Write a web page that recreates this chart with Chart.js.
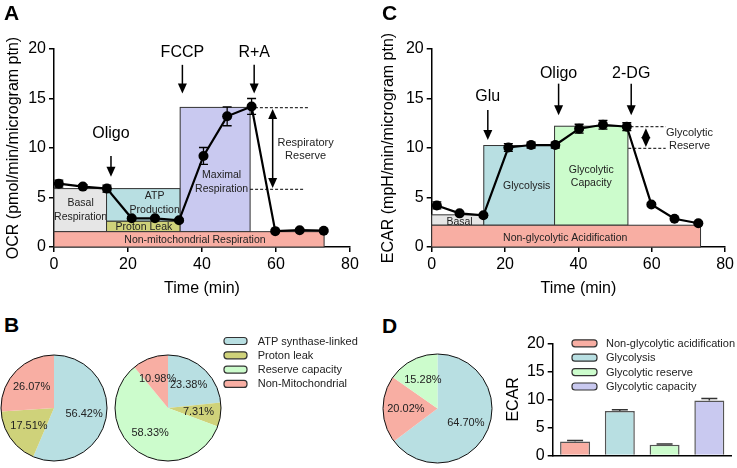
<!DOCTYPE html>
<html><head><meta charset="utf-8">
<script src="https://cdn.jsdelivr.net/npm/chart.js@4.4.1/dist/chart.umd.min.js"></script>
<style>
html,body{margin:0;padding:0;background:#fff;}
#wrap{position:relative;width:737px;height:468px;overflow:hidden;background:#fff;}
canvas{position:absolute;}
.plab{position:absolute;font:bold 21px "Liberation Sans",Arial,sans-serif;line-height:21px;color:#000;}
</style></head><body>
<div id="wrap">
  <canvas id="cA" width="368" height="302" style="left:0;top:0"></canvas>
  <canvas id="cC" width="367" height="302" style="left:370px;top:0"></canvas>
  <canvas id="cB1" width="110" height="110" style="left:0;top:353px"></canvas>
  <canvas id="cB2" width="257" height="135" style="left:113px;top:330px"></canvas>
  <canvas id="cD1" width="113" height="113" style="left:381px;top:352px"></canvas>
  <canvas id="cD2" width="237" height="138" style="left:500px;top:330px"></canvas>
  <div class="plab" style="left:4px;top:2px">A</div>
  <div class="plab" style="left:382px;top:2px">C</div>
  <div class="plab" style="left:4px;top:314px">B</div>
  <div class="plab" style="left:382px;top:315px">D</div>
</div>
<script>
// ---------- DATA ----------
// Panel A: OCR time course
const ocrTime   = [1.3, 7.8, 14.3, 21.0, 27.3, 33.8, 40.4, 46.8, 53.4, 59.8, 66.4, 72.9];
const ocrValues = [6.4, 6.1, 5.9, 2.9, 2.9, 2.7, 9.2, 13.2, 14.2, 1.6, 1.7, 1.65];
const ocrErrors = [0.35, 0.2, 0.35, 0.15, 0.15, 0.15, 0.85, 0.95, 0.8, 0.1, 0.1, 0.1];
const ocrRegionNames = ['Basal Respiration', 'ATP Production', 'Proton Leak', 'Maximal Respiration', 'Non-mitochondrial Respiration'];
const ocrRegionStart = [0, 14.2, 14.2, 34.1, 0];
const ocrRegionEnd   = [14.2, 34.1, 34.1, 53.0, 73.0];
const ocrRegionLow   = [1.55, 2.6, 1.55, 1.55, 0];
const ocrRegionHigh  = [5.9, 5.9, 2.6, 14.1, 1.55];
const ocrInjections  = ['Oligo', 'FCCP', 'R+A'];

// Panel C: ECAR time course
const ecarTime   = [1.4, 7.6, 14.1, 20.9, 27.1, 33.7, 40.2, 46.7, 53.2, 59.9, 66.2, 72.7];
const ecarValues = [4.2, 3.4, 3.2, 10.05, 10.3, 10.3, 11.95, 12.35, 12.15, 4.3, 2.85, 2.4];
const ecarErrors = [0.35, 0.15, 0.15, 0.4, 0.3, 0.3, 0.45, 0.45, 0.4, 0.15, 0.1, 0.1];
const ecarRegionNames = ['Basal', 'Glycolysis', 'Glycolytic Capacity', 'Non-glycolytic Acidification'];
const ecarRegionStart = [0, 14.2, 33.5, 0];
const ecarRegionEnd   = [14.2, 33.5, 53.5, 73.3];
const ecarRegionLow   = [2.2, 2.2, 2.2, 0];
const ecarRegionHigh  = [3.25, 10.25, 12.2, 2.2];
const ecarInjections  = ['Glu', 'Oligo', '2-DG'];

// Panel B: OCR pies
const pieLabelsB = ['ATP synthase-linked', 'Proton leak', 'Reserve capacity', 'Non-Mitochondrial'];
const pieBasal   = [56.42, 17.51, 0, 26.07];
const pieMaximal = [23.38, 7.31, 58.33, 10.98];

// Panel D: ECAR pie and bars
const pieLabelsD = ['Glycolysis', 'Non-glycolytic acidification', 'Glycolytic reserve'];
const pieEcar    = [64.70, 20.02, 15.28];
const barLabelsD = ['Non-glycolytic acidification', 'Glycolysis', 'Glycolytic reserve', 'Glycolytic capacity'];
const barValuesD = [2.5, 7.9, 1.9, 9.8];
const barErrorsD = [0.15, 0.25, 0.12, 0.35];

const yTicksLine = [0, 5, 10, 15, 20];
const xTicksLine = [0, 20, 40, 60, 80];

// ---------- STYLE ----------
const FAM = '"Liberation Sans", Arial, Helvetica, sans-serif';
Chart.defaults.font.family = FAM;
Chart.defaults.color = '#000';
const C = {
  gray: '#e6e6e6', teal: '#b8dfe2', olive: '#cfd27a', lav: '#c9c9f0',
  salmon: '#f8aea3', green: '#ccfccc'
};

// ---------- PLUGINS ----------
function arrowHead(ctx, x, y, dir) { // dir: 1 = pointing down, -1 = up
  ctx.beginPath();
  ctx.moveTo(x, y);
  ctx.lineTo(x - 4.5, y - dir * 10);
  ctx.lineTo(x + 4.5, y - dir * 10);
  ctx.closePath();
  ctx.fill();
}

const seahorsePlugin = {
  id: 'seahorse',
  beforeDatasetsDraw(chart, args, o) {
    const ctx = chart.ctx, xs = chart.scales.x, ys = chart.scales.y;
    const px = v => xs.getPixelForValue(v), py = v => ys.getPixelForValue(v);
    ctx.save();
    o.names.forEach((name, i) => {
      const x0 = px(o.start[i]), x1 = px(o.end[i]), y0 = py(o.low[i]), y1 = py(o.high[i]);
      ctx.fillStyle = o.colors[i];
      ctx.fillRect(x0, y1, x1 - x0, y0 - y1);
      ctx.strokeStyle = '#333'; ctx.lineWidth = 1;
      ctx.strokeRect(x0, y1, x1 - x0, y0 - y1);
      const lab = o.labels[i];
      ctx.fillStyle = '#222'; ctx.font = '10.5px ' + FAM;
      ctx.textAlign = 'center'; ctx.textBaseline = 'middle';
      lab.lines.forEach((t, k) => ctx.fillText(t, px(lab.x), py(lab.y[k])));
    });
    // error bars
    const meta = chart.getDatasetMeta(0);
    ctx.strokeStyle = '#000'; ctx.lineWidth = 1.3;
    meta.data.forEach((pt, i) => {
      const v = o.values[i], e = o.errors[i];
      const yt = py(v + e), yb = py(v - e), x = pt.x;
      ctx.beginPath();
      ctx.moveTo(x, yt); ctx.lineTo(x, yb);
      ctx.moveTo(x - 4.5, yt); ctx.lineTo(x + 4.5, yt);
      ctx.moveTo(x - 4.5, yb); ctx.lineTo(x + 4.5, yb);
      ctx.stroke();
    });
    ctx.restore();
  },
  afterDatasetsDraw(chart, args, o) {
    const ctx = chart.ctx, xs = chart.scales.x, ys = chart.scales.y;
    const px = v => xs.getPixelForValue(v), py = v => ys.getPixelForValue(v);
    ctx.save();
    ctx.fillStyle = '#000'; ctx.strokeStyle = '#000';
    // injection arrows
    o.arrows.forEach((a, i) => {
      const x = px(a.x), yTop = py(a.from), yTip = py(a.to);
      ctx.lineWidth = 1.5;
      ctx.beginPath(); ctx.moveTo(x, yTop); ctx.lineTo(x, yTip - 8); ctx.stroke();
      arrowHead(ctx, x, yTip, 1);
      ctx.font = '16px ' + FAM; ctx.textAlign = 'center'; ctx.textBaseline = 'middle';
      ctx.fillText(o.injections[i], x, py(a.ty));
    });
    // dashed guides
    ctx.setLineDash([3, 2]); ctx.lineWidth = 1;
    o.dashes.forEach(d => {
      ctx.beginPath(); ctx.moveTo(px(d.x0), py(d.y)); ctx.lineTo(px(d.x1), py(d.y)); ctx.stroke();
    });
    ctx.setLineDash([]);
    // double arrow
    const s = o.span, sx = px(s.x), sy0 = py(s.y0), sy1 = py(s.y1);
    ctx.lineWidth = 1.5;
    ctx.beginPath(); ctx.moveTo(sx, sy0 + 8); ctx.lineTo(sx, sy1 - 8); ctx.stroke();
    arrowHead(ctx, sx, sy0, -1);
    arrowHead(ctx, sx, sy1, 1);
    ctx.font = '11px ' + FAM; ctx.fillStyle = '#222';
    ctx.textAlign = 'center'; ctx.textBaseline = 'middle';
    s.lines.forEach((t, k) => ctx.fillText(t, px(s.tx), py(s.ty[k])));
    ctx.restore();
  }
};

const pieDecor = {
  id: 'pieDecor',
  afterDatasetsDraw(chart, args, o) {
    const ctx = chart.ctx, meta = chart.getDatasetMeta(0), vals = chart.data.datasets[0].data;
    const a0 = meta.data[0];
    ctx.save();
    ctx.strokeStyle = '#111'; ctx.lineWidth = 1;
    ctx.beginPath(); ctx.arc(a0.x, a0.y, a0.outerRadius, 0, Math.PI * 2); ctx.stroke();
    ctx.fillStyle = '#222'; ctx.font = '11px ' + FAM;
    ctx.textAlign = 'center'; ctx.textBaseline = 'middle';
    meta.data.forEach((arc, i) => {
      if (!vals[i]) return;
      const mid = (arc.startAngle + arc.endAngle) / 2;
      const r = arc.outerRadius * (o.factor || 0.6);
      ctx.fillText(vals[i].toFixed(2) + '%', arc.x + Math.cos(mid) * r, arc.y + Math.sin(mid) * r);
    });
    ctx.restore();
  }
};

const boxLegend = {
  id: 'boxLegend',
  afterDraw(chart, args, o) {
    const ctx = chart.ctx;
    ctx.save();
    ctx.font = '11px ' + FAM; ctx.textAlign = 'left'; ctx.textBaseline = 'middle';
    o.labels.forEach((t, i) => {
      const y = o.y + i * o.step;
      ctx.beginPath();
      ctx.roundRect(o.x, y - 3.5, o.w, 7, 3);
      ctx.fillStyle = o.colors[i]; ctx.fill();
      ctx.strokeStyle = '#333'; ctx.lineWidth = 1.2; ctx.stroke();
      ctx.fillStyle = '#222';
      ctx.fillText(t, o.tx, y + 0.5);
    });
    ctx.restore();
  }
};

const barErr = {
  id: 'barErr',
  afterDatasetsDraw(chart, args, o) {
    const ctx = chart.ctx, ys = chart.scales.y, meta = chart.getDatasetMeta(0);
    ctx.save(); ctx.strokeStyle = '#333'; ctx.lineWidth = 1.5;
    meta.data.forEach((b, i) => {
      const top = ys.getPixelForValue(barValuesD[i] + barErrorsD[i]);
      ctx.beginPath();
      ctx.moveTo(b.x, b.y); ctx.lineTo(b.x, top);
      ctx.moveTo(b.x - 8, top); ctx.lineTo(b.x + 8, top);
      ctx.stroke();
    });
    ctx.restore();
  }
};

// ---------- CHART BUILDERS ----------
function axisBase() {
  return {
    grid: { display: true, drawOnChartArea: false, drawTicks: true, tickLength: 5, color: '#000', lineWidth: 1.5 },
    border: { display: true, color: '#000', width: 1.5 },
  };
}

function seahorse(id, times, values, errors, yTitle, pad, yWidth, plugOpts) {
  return new Chart(document.getElementById(id), {
    type: 'line',
    data: { datasets: [{
      data: times.map((t, i) => ({ x: t, y: values[i] })),
      borderColor: '#000', borderWidth: 2.2, tension: 0,
      pointRadius: 5, pointBackgroundColor: '#000', pointBorderColor: '#000', pointBorderWidth: 0
    }]},
    options: {
      responsive: false, animation: false, devicePixelRatio: 1,
      layout: { padding: pad },
      events: [],
      plugins: { legend: { display: false }, tooltip: { enabled: false }, seahorse: plugOpts },
      scales: {
        x: Object.assign(axisBase(), {
          type: 'linear', min: 0, max: 80,
          afterBuildTicks: s => { s.ticks = xTicksLine.map(v => ({ value: v })); },
          ticks: { font: { size: 16 }, color: '#000', padding: 3, maxRotation: 0 },
          title: { display: true, text: 'Time (min)', font: { size: 16 }, color: '#000', padding: { top: 4, bottom: 4 } },
          afterFit: s => { s.height = 55; }
        }),
        y: Object.assign(axisBase(), {
          type: 'linear', min: 0, max: 20,
          afterBuildTicks: s => { s.ticks = yTicksLine.map(v => ({ value: v })); },
          ticks: { font: { size: 16 }, color: '#000', padding: 3 },
          title: { display: true, text: yTitle, font: { size: 16 }, color: '#000', padding: { top: 4, bottom: 4 } },
          afterFit: s => { s.width = yWidth; }
        })
      }
    },
    plugins: [seahorsePlugin]
  });
}

// Panel A
seahorse('cA', ocrTime, ocrValues, ocrErrors, 'OCR (pmol/min/microgram ptn)',
  { left: 0, right: 18, top: 49, bottom: 0 }, 54, {
    names: ocrRegionNames, start: ocrRegionStart, end: ocrRegionEnd, low: ocrRegionLow, high: ocrRegionHigh,
    values: ocrValues, errors: ocrErrors,
    colors: [C.gray, C.teal, C.olive, C.lav, C.salmon],
    labels: [
      { lines: ['Basal', 'Respiration'], x: 7.2, y: [4.42, 3.0] },
      { lines: ['ATP', 'Production'], x: 27.2, y: [5.1, 3.7] },
      { lines: ['Proton Leak'], x: 24.3, y: [2.05] },
      { lines: ['Maximal', 'Respiration'], x: 45.3, y: [7.3, 5.8] },
      { lines: ['Non-mitochondrial Respiration'], x: 38.1, y: [0.74] }
    ],
    injections: ocrInjections,
    arrows: [
      { x: 15.4, from: 9.2, to: 7.1, ty: 11.5 },
      { x: 34.7, from: 18.4, to: 15.5, ty: 19.66 },
      { x: 54.1, from: 18.4, to: 15.5, ty: 19.66 }
    ],
    dashes: [{ y: 14.07, x0: 54.3, x1: 68.7 }, { y: 5.83, x0: 53.0, x1: 67.8 }],
    span: { x: 59.1, y0: 13.95, y1: 5.95, lines: ['Respiratory', 'Reserve'], tx: 68, ty: [10.55, 9.2] }
  });

// Panel C
seahorse('cC', ecarTime, ecarValues, ecarErrors, 'ECAR (mpH/min/microgram ptn)',
  { left: 5, right: 9, top: 49, bottom: 0 }, 56.7, {
    names: ecarRegionNames, start: ecarRegionStart, end: ecarRegionEnd, low: ecarRegionLow, high: ecarRegionHigh,
    values: ecarValues, errors: ecarErrors,
    colors: [C.gray, C.teal, C.green, C.salmon],
    labels: [
      { lines: ['Basal'], x: 7.6, y: [2.55] },
      { lines: ['Glycolysis'], x: 25.9, y: [6.13] },
      { lines: ['Glycolytic', 'Capacity'], x: 43.5, y: [7.8, 6.45] },
      { lines: ['Non-glycolytic Acidification'], x: 36.4, y: [0.9] }
    ],
    injections: ecarInjections,
    arrows: [
      { x: 15.3, from: 13.85, to: 10.8, ty: 15.2 },
      { x: 34.6, from: 16.5, to: 13.3, ty: 17.55 },
      { x: 54.4, from: 16.5, to: 13.3, ty: 17.55 }
    ],
    dashes: [{ y: 12.15, x0: 54.2, x1: 63.8 }, { y: 9.97, x0: 53.6, x1: 63.8 }],
    span: { x: 58.4, y0: 12.0, y1: 10.1, lines: ['Glycolytic', 'Reserve'], tx: 70.3, ty: [11.55, 10.2] }
  });

function pie(id, labels, values, colors, pad, extraPlugins, pluginOpts) {
  return new Chart(document.getElementById(id), {
    type: 'pie',
    data: { labels: labels, datasets: [{ data: values, backgroundColor: colors, borderWidth: 0 }] },
    options: {
      responsive: false, animation: false, devicePixelRatio: 1, events: [],
      layout: { padding: pad },
      plugins: Object.assign({ legend: { display: false }, tooltip: { enabled: false }, pieDecor: { factor: 0.58 } }, pluginOpts || {})
    },
    plugins: [pieDecor].concat(extraPlugins || [])
  });
}

const pieColorsB = [C.teal, C.olive, C.green, C.salmon];
pie('cB1', pieLabelsB, pieBasal, pieColorsB, { left: 1, top: 2, right: 3, bottom: 2 });
pie('cB2', pieLabelsB, pieMaximal, pieColorsB, { left: 2, top: 25, right: 149, bottom: 4 }, [boxLegend], {
  boxLegend: { labels: pieLabelsB, colors: pieColorsB, x: 111, w: 23, tx: 144.7, y: 11, step: 14.3 }
});
pie('cD1', pieLabelsD, pieEcar, [C.teal, C.salmon, C.green], { left: 2, top: 2, right: 2, bottom: 2 });

// Panel D bars
const barColorsD = [C.salmon, C.teal, C.green, C.lav];
new Chart(document.getElementById('cD2'), {
  type: 'bar',
  data: { labels: barLabelsD, datasets: [{
    data: barValuesD, backgroundColor: barColorsD, borderColor: '#555', borderWidth: 1.5,
    barPercentage: 0.67, categoryPercentage: 1.0
  }]},
  options: {
    responsive: false, animation: false, devicePixelRatio: 1, events: [],
    layout: { padding: { left: 0, top: 13.3, right: 5.3, bottom: 0 } },
    plugins: {
      legend: { display: false }, tooltip: { enabled: false },
      boxLegend: { labels: barLabelsD, colors: barColorsD, x: 72, w: 25, tx: 106, y: 13.3, step: 14.4 }
    },
    scales: {
      x: {
        ticks: { display: false }, grid: { display: false },
        border: { display: true, color: '#000', width: 1.5 },
        afterFit: s => { s.height = 6; }
      },
      y: Object.assign(axisBase(), {
        min: 0, max: 20,
        afterBuildTicks: s => { s.ticks = yTicksLine.map(v => ({ value: v })); },
        ticks: { font: { size: 16 }, color: '#000', padding: 3 },
        title: { display: true, text: 'ECAR', font: { size: 16 }, color: '#000', padding: { top: 4, bottom: 4 } },
        afterFit: s => { s.width = 52.7; }
      })
    }
  },
  plugins: [barErr, boxLegend]
});
</script>
</body></html>
